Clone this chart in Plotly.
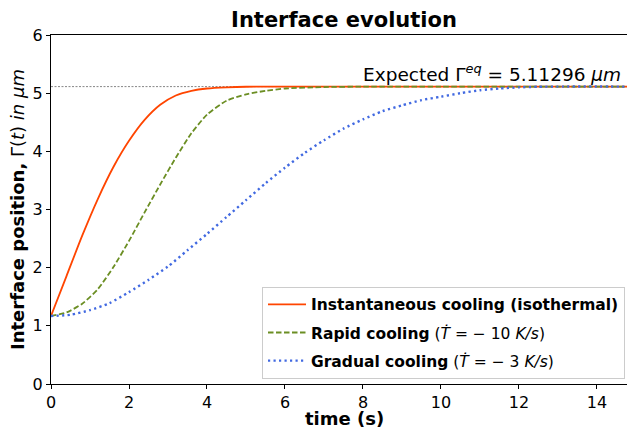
import plotly.graph_objects as go

# --- data ---
EQ = 5.11296

t_inst = [0, 0.4, 0.8, 1.2, 1.6, 2.0, 2.4, 2.8, 3.2, 3.6, 4.0, 4.5, 5.0, 6.0, 8.0, 10.0, 12.0, 15.0]
y_inst = [1.17, 1.86, 2.55, 3.18, 3.73, 4.18, 4.54, 4.80, 4.96, 5.04, 5.08, 5.10, 5.11, 5.113, 5.113, 5.113, 5.113, 5.113]

t_rapid = [0, 0.4, 0.8, 1.2, 1.6, 2.0, 2.4, 2.8, 3.2, 3.6, 4.0, 4.5, 5.0, 5.5, 6.0, 7.0, 8.0, 10.0, 12.0, 15.0]
y_rapid = [1.17, 1.23, 1.38, 1.63, 2.01, 2.46, 2.95, 3.43, 3.89, 4.31, 4.63, 4.87, 4.98, 5.04, 5.08, 5.105, 5.112, 5.113, 5.113, 5.113]

t_grad = [0, 0.5, 1.0, 1.5, 2.0, 2.5, 3.0, 3.5, 4.0, 4.5, 5.0, 5.5, 6.0, 6.5, 7.0, 7.5, 8.0, 8.5,
          9.0, 9.5, 10.0, 10.5, 11.0, 11.5, 12.0, 12.5, 13.0, 15.0]
y_grad = [1.17, 1.19, 1.27, 1.39, 1.58, 1.79, 2.02, 2.30, 2.58, 2.87, 3.16, 3.45, 3.72, 3.97, 4.19, 4.39, 4.55, 4.69,
          4.79, 4.88, 4.94, 5.00, 5.05, 5.08, 5.10, 5.11, 5.113, 5.113]

x_ticks = [0, 2, 4, 6, 8, 10, 12, 14]
y_ticks = [0, 1, 2, 3, 4, 5, 6]
x_max = 14.77

names = [
    "<b>Instantaneous cooling (isothermal)</b>",
    "<b>Rapid cooling</b> (<i>Ṫ</i> = − 10 <i>K/s</i>)",
    "<b>Gradual cooling</b> (<i>Ṫ</i> = − 3 <i>K/s</i>)",
]

FONT = "DejaVu Sans"

fig = go.Figure()

# equilibrium reference line
fig.add_trace(go.Scatter(x=[0, 15], y=[EQ, EQ], mode="lines",
                         line=dict(color="#666666", width=0.8, dash="2px,1.5px"),
                         showlegend=False, hoverinfo="skip"))

fig.add_trace(go.Scatter(x=t_inst, y=y_inst, mode="lines", name=names[0], legendgroup="a",
                         line=dict(color="#FF4500", width=1.8, shape="spline", smoothing=0.6)))
fig.add_trace(go.Scatter(x=t_rapid, y=y_rapid, mode="lines", name=names[1], legendgroup="b",
                         line=dict(color="#6B8E23", width=1.8, dash="5.5px,2.5px", shape="spline", smoothing=0.6)))
fig.add_trace(go.Scatter(x=t_grad, y=y_grad, mode="lines", name=names[2], legendgroup="c",
                         line=dict(color="#4169E1", width=2.4, dash="2.2px,3.3px", shape="spline", smoothing=0.6)))

fig.update_layout(
    width=627, height=429,
    margin=dict(l=51, r=0, t=35, b=45, autoexpand=False),
    paper_bgcolor="white", plot_bgcolor="white",
    font=dict(family=FONT, color="black", size=16),
    title=dict(text="<b>Interface evolution</b>", font=dict(size=21, family=FONT),
               x=344 / 627, xanchor="center", xref="container",
               y=1 - 20 / 429, yanchor="middle", yref="container"),
    xaxis=dict(range=[0, x_max], tickvals=x_ticks, ticktext=[str(v) for v in x_ticks],
               showgrid=False, zeroline=False, showline=True, linecolor="black", linewidth=1,
               mirror=True, ticks="outside", ticklen=4, tickcolor="black",
               tickfont=dict(size=16, family=FONT)),
    yaxis=dict(range=[0, 6], tickvals=y_ticks, ticktext=[str(v) for v in y_ticks],
               showgrid=False, zeroline=False, showline=True, linecolor="black", linewidth=1,
               ticks="outside", ticklen=4, tickcolor="black",
               tickfont=dict(size=16, family=FONT)),
    legend=dict(x=(262 - 51) / 576, y=(384.3 - 287) / 349.3, xanchor="left", yanchor="top",
                bgcolor="rgba(255,255,255,0.85)", bordercolor="#cccccc", borderwidth=1,
                font=dict(size=15.5, family=FONT), tracegroupgap=5, itemwidth=38),
    showlegend=True,
)

fig.add_annotation(text="Expected Γ<sup><i>eq</i></sup> = 5.11296 <i>μm</i>",
                   xref="paper", x=(623 - 51) / 576, xanchor="right",
                   yref="y", y=EQ, yanchor="bottom", yshift=0,
                   showarrow=False, font=dict(size=18.5, family=FONT))

fig.add_annotation(text="<b>time (s)</b>", xref="paper", x=(344 - 51) / 576, xanchor="center",
                   yref="paper", y=(384.3 - 419) / 349.3, yanchor="middle",
                   showarrow=False, font=dict(size=18, family=FONT))

fig.add_annotation(text="<b>Interface position,</b> Γ(<i>t</i>) <i>in μm</i>",
                   xref="paper", x=(17.5 - 51) / 576, xanchor="center",
                   yref="paper", y=0.5, yanchor="middle", textangle=-90,
                   showarrow=False, font=dict(size=18, family=FONT))

fig.write_html("out.html", config={"displayModeBar": False},
               post_script="document.body.style.margin='0';document.body.style.overflow='hidden';")
